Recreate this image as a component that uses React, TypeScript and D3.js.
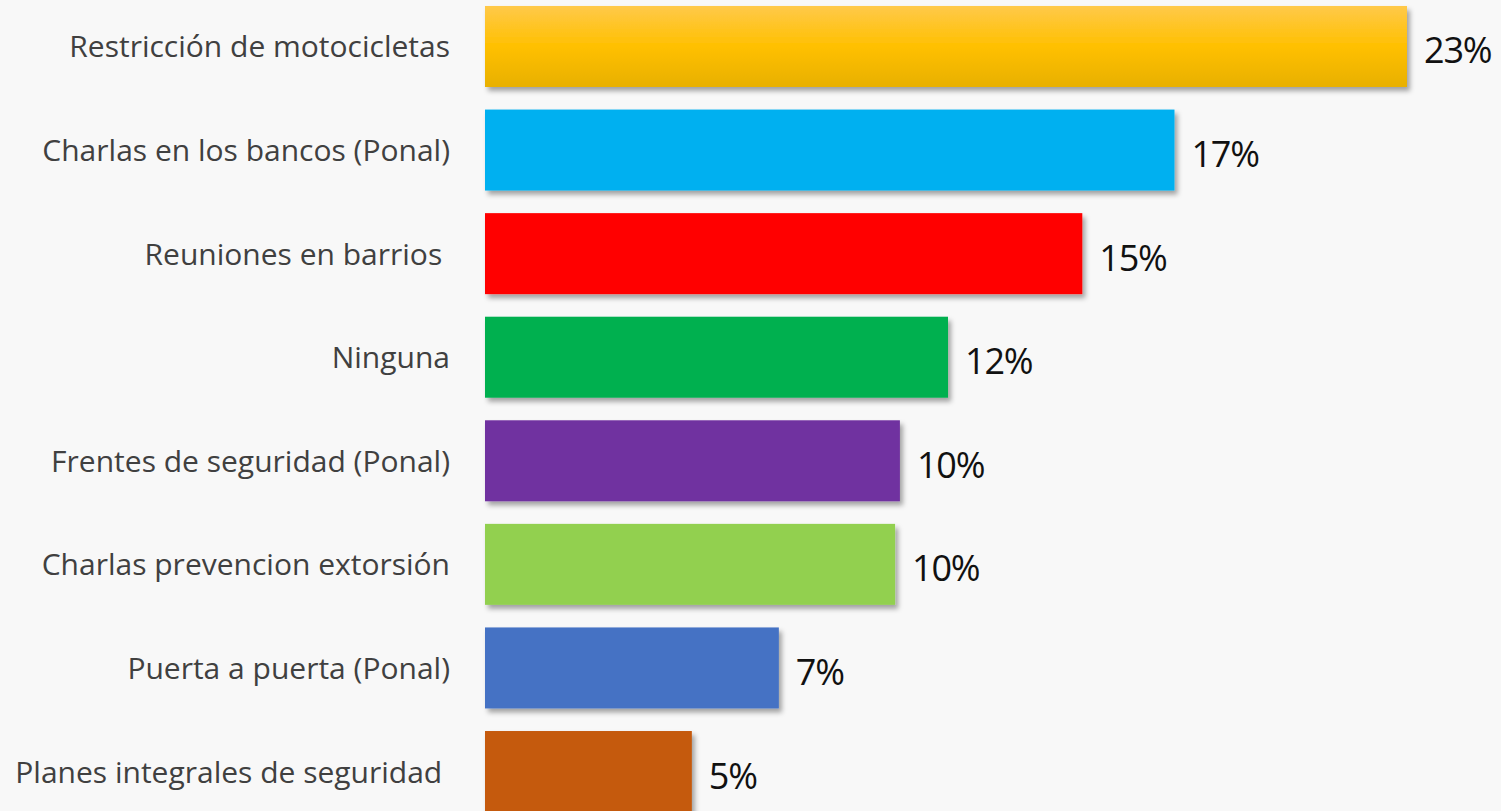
import React from "react";
import * as d3 from "d3";

const categories = [
  "Restricción de motocicletas",
  "Charlas en los bancos (Ponal)",
  "Reuniones en barrios ",
  "Ninguna",
  "Frentes de seguridad (Ponal)",
  "Charlas prevencion extorsión",
  "Puerta a puerta (Ponal)",
  "Planes integrales de seguridad ",
];
const values = [23, 17.2, 14.9, 11.55, 10.35, 10.23, 7.33, 5.16];
const colors = ["url(#gold)", "#00b0f0", "#ff0000", "#00b050", "#7030a0", "#92d050", "#4472c4", "#c55a11"];

const W = 1501;
const H = 811;

export default function App() {
  const x = d3.scaleLinear().domain([0, 23]).range([485, 1407]);
  const y = d3
    .scaleBand<string>()
    .domain(categories)
    .range([-5.3, 823.3])
    .paddingInner(0.218)
    .paddingOuter(0.109);
  const fmt = (v: number) => d3.format(".0f")(v) + "%";
  return (
    <svg
      width={W}
      height={H}
      style={{ position: "absolute", left: 0, top: 0, background: "#f8f8f8" }}
    >
      <defs>
        <linearGradient id="gold" x1="0" y1="0" x2="0" y2="1">
          <stop offset="0" stopColor="#ffc94a" />
          <stop offset="0.5" stopColor="#ffc000" />
          <stop offset="1" stopColor="#e8b000" />
        </linearGradient>
        <filter id="shadow" x="-5%" y="-20%" width="115%" height="150%">
          <feDropShadow dx="3" dy="4" stdDeviation="2.5" floodColor="#000" floodOpacity="0.35" />
        </filter>
      </defs>
      <rect x={0} y={0} width={W} height={H} fill="#f8f8f8" />
      {categories.map((c, i) => {
        const yy = y(c)!;
        const bw = y.bandwidth();
        return (
          <g key={c}>
            <rect
              x={x(0)}
              y={yy}
              width={x(values[i]) - x(0)}
              height={bw}
              fill={colors[i]}
              filter="url(#shadow)"
            />
            <text
              x={450}
              y={yy + bw / 2 + 11}
              textAnchor="end"
              fontFamily="'Open Sans', sans-serif"
              fontSize={30}
              fill="#404040"
              style={{ whiteSpace: "pre" }}
            >
              {c}
            </text>
            <text
              x={x(values[i]) + 17}
              y={yy + bw / 2 + 17}
              fontFamily="'Open Sans', sans-serif"
              fontSize={36}
              fill="#111"
              letterSpacing={-1.2}
            >
              {fmt(values[i])}
            </text>
          </g>
        );
      })}
    </svg>
  );
}
